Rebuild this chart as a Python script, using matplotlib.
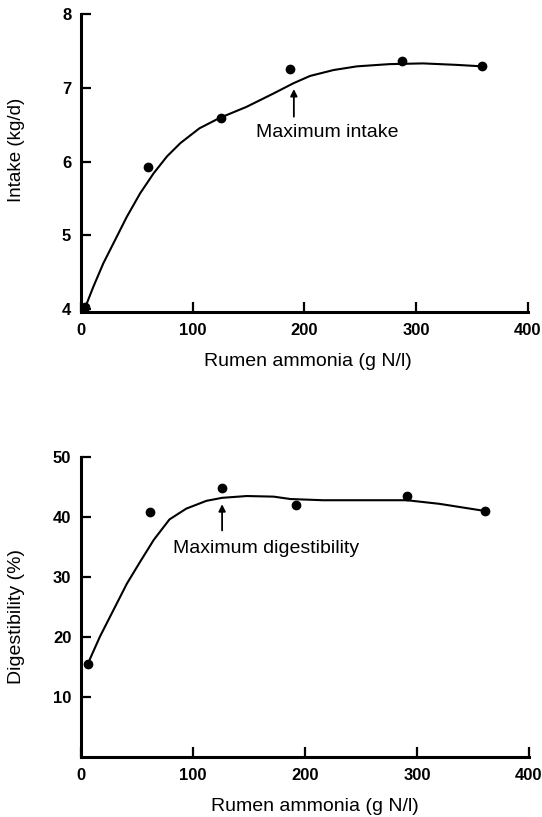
import matplotlib.pyplot as plt

plt.rcParams['font.family'] = ['Liberation Sans', 'DejaVu Sans']

# measured points
ammonia_intake = [4, 60, 125, 187, 287, 359]
intake = [4.03, 5.93, 6.59, 7.25, 7.36, 7.29]

ammonia_digest = [6, 62, 126, 192, 291, 361]
digestibility = [15.5, 40.9, 44.9, 42.0, 43.5, 41.0]

# fitted curves
curve_x_intake = [1, 4, 11, 20, 29, 41, 53, 65, 77, 89, 106, 124, 148, 172, 190,
                  205, 226, 247, 276, 306, 336, 359]
curve_y_intake = [3.96, 4.03, 4.30, 4.62, 4.89, 5.25, 5.57, 5.84, 6.07, 6.25, 6.45,
                  6.59, 6.74, 6.92, 7.06, 7.16, 7.24, 7.29, 7.32, 7.33, 7.31, 7.29]

curve_x_digest = [6, 17, 29, 41, 53, 65, 79, 94, 112, 126, 148, 172, 187, 216, 261,
                  291, 320, 361]
curve_y_digest = [15.5, 20.1, 24.5, 28.9, 32.6, 36.2, 39.6, 41.4, 42.7, 43.2, 43.5,
                  43.4, 43.0, 42.8, 42.8, 42.8, 42.2, 41.0]

x_ticks = [0, 100, 200, 300, 400]
intake_ticks = [4, 5, 6, 7, 8]
digest_ticks = [10, 20, 30, 40, 50]

fig = plt.figure(figsize=(5.42, 8.17), dpi=100)
ax1 = fig.add_axes([0.1494, 0.6181, 0.8247, 0.3648])
ax2 = fig.add_axes([0.1494, 0.0734, 0.8266, 0.3672])


def style(ax):
    for s in ['top', 'right']:
        ax.spines[s].set_visible(False)
    for s in ['left', 'bottom']:
        ax.spines[s].set_linewidth(2.2)
    ax.tick_params(direction='in', length=7, width=1.6, labelsize=12)
    ax.tick_params(axis='x', pad=8)
    ax.tick_params(axis='y', pad=7)
    for lab in ax.get_xticklabels() + ax.get_yticklabels():
        lab.set_fontweight('bold')


# -----------------------------
# Top panel: intake
# -----------------------------
ax1.plot(curve_x_intake, curve_y_intake, color='black', lw=1.5, clip_on=False)
ax1.plot(ammonia_intake, intake, 'o', color='black', ms=6, clip_on=False)
ax1.set_xlim(0, 400)
ax1.set_ylim(3.96, 8)
ax1.set_xticks(x_ticks)
ax1.set_yticks(intake_ticks)
ax1.set_ylabel('Intake (kg/d)', fontsize=13.5)
ax1.yaxis.set_label_coords(-0.125, 0.544)
ax1.set_xlabel('Rumen ammonia (g N/l)', fontsize=14)
ax1.xaxis.set_label_coords(0.508, -0.136)
style(ax1)
ax1.annotate('', xy=(190.5, 7.02), xytext=(190.5, 6.57),
             arrowprops=dict(arrowstyle='-|>', color='black', lw=1.3, mutation_scale=10))
ax1.text(220, 6.33, 'Maximum intake', ha='center', va='baseline', fontsize=14)

# -----------------------------
# Bottom panel: digestibility
# -----------------------------
ax2.plot(curve_x_digest, curve_y_digest, color='black', lw=1.5, clip_on=False)
ax2.plot(ammonia_digest, digestibility, 'o', color='black', ms=6, clip_on=False)
ax2.set_xlim(0, 400)
ax2.set_ylim(0, 50)
ax2.set_xticks(x_ticks)
ax2.set_yticks(digest_ticks)
ax2.set_ylabel('Digestibility (%)', fontsize=14)
ax2.yaxis.set_label_coords(-0.125, 0.47)
ax2.set_xlabel('Rumen ammonia (g N/l)', fontsize=14)
ax2.xaxis.set_label_coords(0.522, -0.135)
style(ax2)
ax2.annotate('', xy=(126, 42.6), xytext=(126, 37.3),
             arrowprops=dict(arrowstyle='-|>', color='black', lw=1.3, mutation_scale=10))
ax2.text(165.5, 34.05, 'Maximum digestibility', ha='center', va='baseline', fontsize=14)

fig.savefig('out.png', dpi=100)
